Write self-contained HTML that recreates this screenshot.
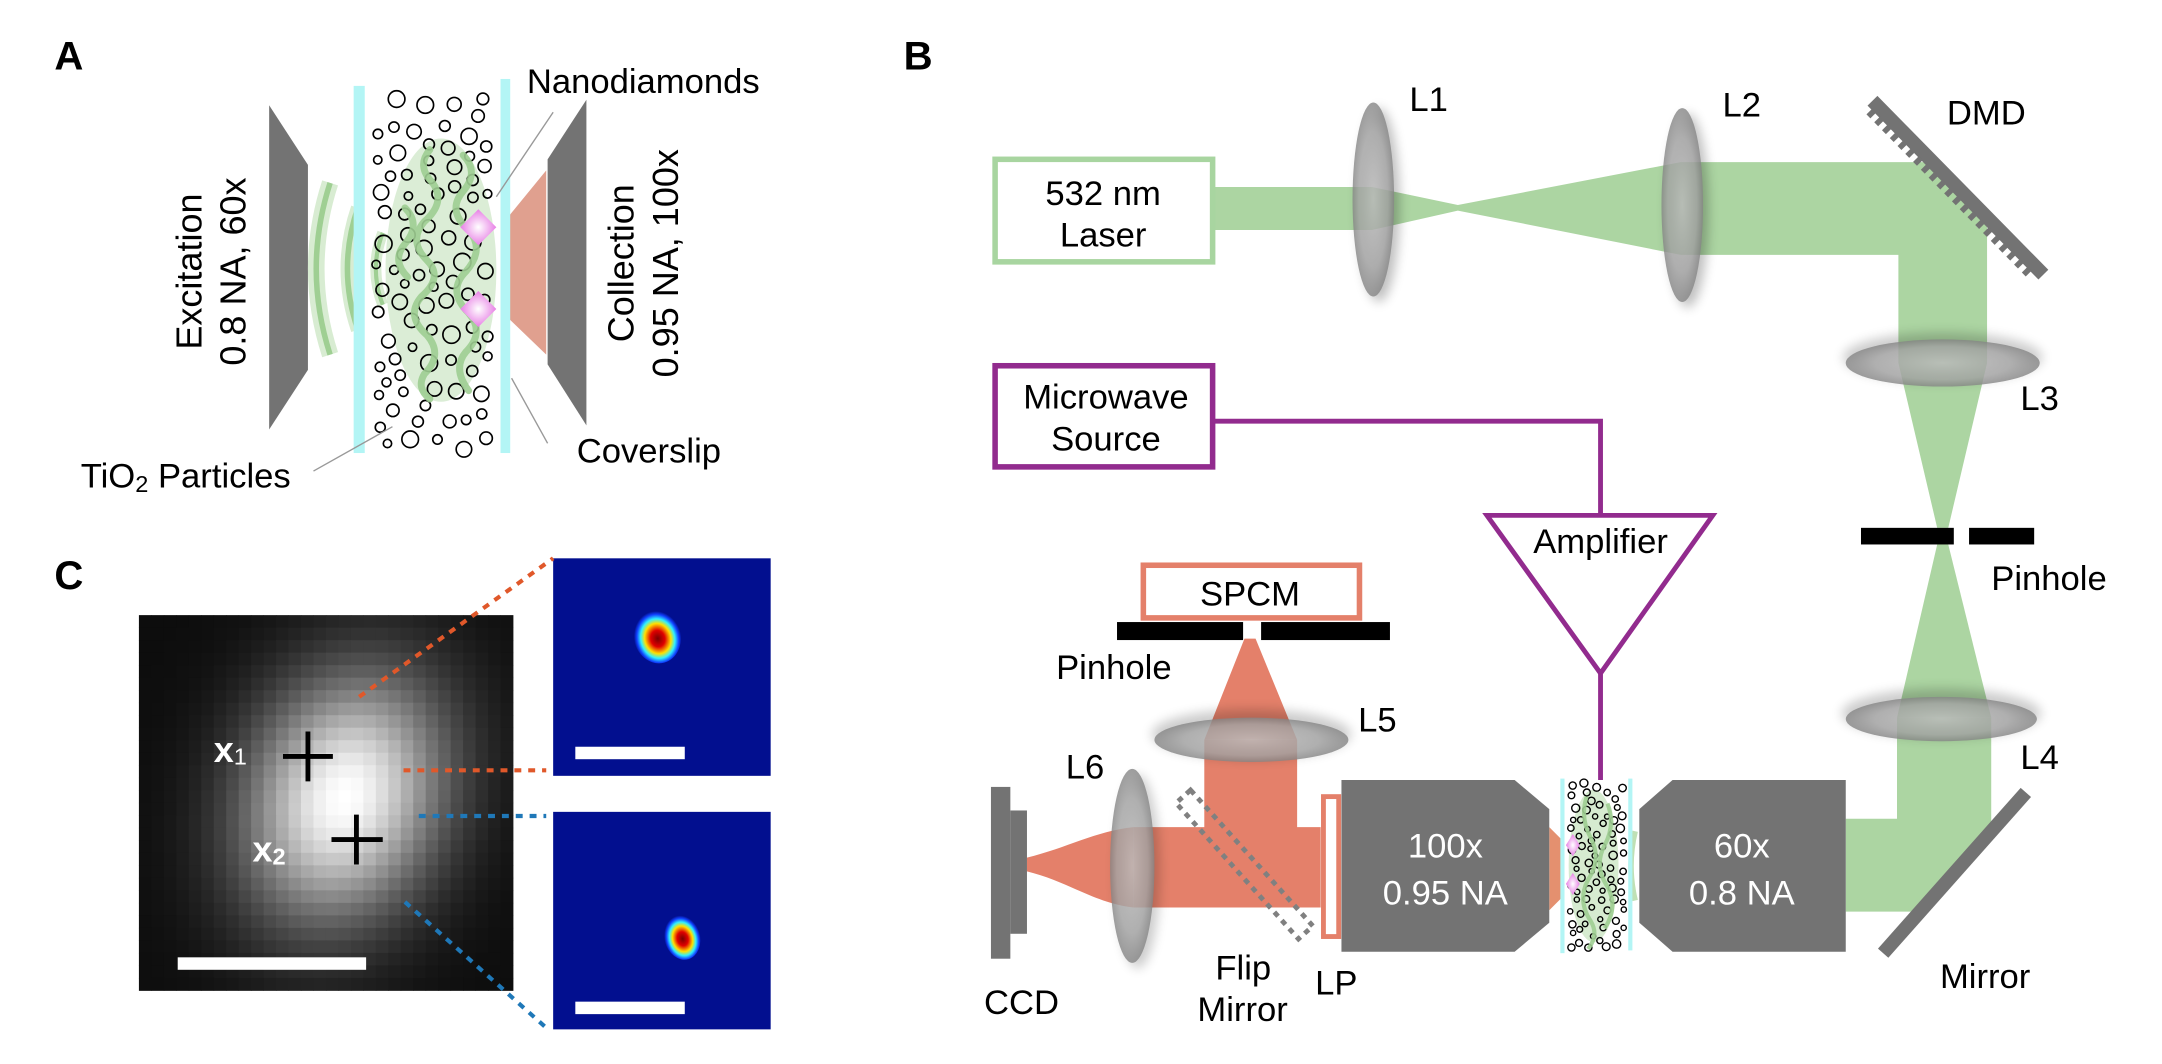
<!DOCTYPE html>
<html><head><meta charset="utf-8"><style>
html,body{margin:0;padding:0;background:#fff;}
svg{display:block;}
text{font-family:"Liberation Sans",Arial,sans-serif;}
</style></head><body>
<svg id="s" width="2162" height="1064" viewBox="0 0 1560 768" xmlns="http://www.w3.org/2000/svg">
<defs>
<radialGradient id="lens" cx="50%" cy="50%" r="50%">
<stop offset="0" stop-color="#c4c4c4"/><stop offset="0.7" stop-color="#a8a8a8"/><stop offset="1" stop-color="#858585"/>
</radialGradient>
<filter id="sh" x="-50%" y="-50%" width="200%" height="200%"><feGaussianBlur stdDeviation="4"/></filter>
<radialGradient id="hot" cx="50%" cy="55%" r="50%">
<stop offset="0" stop-color="#7a0000"/><stop offset="0.3" stop-color="#e00000"/><stop offset="0.55" stop-color="#ffe000"/><stop offset="0.72" stop-color="#30f0ff"/><stop offset="0.88" stop-color="#1040ff"/><stop offset="1" stop-color="#020f8f"/>
</radialGradient>
<radialGradient id="pink" cx="50%" cy="50%" r="50%">
<stop offset="0" stop-color="#fff"/><stop offset="1" stop-color="#e77fe5"/>
</radialGradient>
</defs>

<!-- ===== Panel A ===== -->
<text x="39" y="50" font-size="29" font-weight="bold">A</text>
<polygon points="194,76 222,119 222,267 194,310" fill="#737373"/>
<polygon points="423,72 395,115 395,263 423,307" fill="#737373"/>
<polygon points="367,156 394,123 394,256 367,230" fill="#e0a08f"/>
<g fill="none" stroke-linecap="butt">
<path d="M238,132 Q218,194 238,256" stroke="#d8ecd2" stroke-width="12"/>
<path d="M238,132 Q218,194 238,256" stroke="#9fcf93" stroke-width="4"/>
<path d="M258,150 Q243,194 258,238" stroke="#d8ecd2" stroke-width="10"/>
<path d="M258,150 Q243,194 258,238" stroke="#9fcf93" stroke-width="4"/>
<path d="M276,168 Q266,194 276,220" stroke="#d8ecd2" stroke-width="8"/>
<path d="M276,168 Q266,194 276,220" stroke="#9fcf93" stroke-width="3"/>
</g>
<ellipse cx="318" cy="195" rx="40" ry="95" fill="#cfe7c8" opacity="0.75"/>
<g id="circA" fill="none" stroke="#000" stroke-width="1.2"></g>
<g fill="none" stroke="#9fcf93" stroke-width="5" stroke-linecap="round" opacity="0.9">
<path d="M310,108 Q300,120 312,132 Q322,146 306,160 Q294,174 308,188 Q320,200 304,214 Q292,228 308,242 Q320,256 306,270 Q300,280 310,288"/>
<path d="M334,112 Q346,124 334,138 Q322,152 338,166 Q350,180 336,196 Q322,210 338,226 Q350,240 336,254 Q326,266 338,282"/>
<path d="M292,150 Q304,162 292,176 Q282,188 294,200"/>
</g>
<polygon points="345,151 358,164 345,177 332,164" fill="url(#pink)"/>
<polygon points="345,210 358,223 345,236 332,223" fill="url(#pink)"/>
<rect x="255" y="62" width="8" height="265" fill="#b3f5f5"/>
<rect x="361" y="57" width="7" height="270" fill="#b3f5f5"/>
<g stroke="#999" stroke-width="1" fill="none">
<line x1="399" y1="81" x2="358" y2="142"/>
<line x1="369" y1="273" x2="395" y2="320"/>
<line x1="226" y1="340" x2="283" y2="308"/>
</g>
<text x="380" y="67" font-size="25">Nanodiamonds</text>
<text x="416" y="334" font-size="25">Coverslip</text>
<text x="58" y="352" font-size="25">TiO<tspan font-size="17" dy="3">2</tspan><tspan dy="-3"> Particles</tspan></text>
<text transform="translate(145,196) rotate(-90)" text-anchor="middle" font-size="26">Excitation</text>
<text transform="translate(177,196) rotate(-90)" text-anchor="middle" font-size="26">0.8 NA, 60x</text>
<text transform="translate(457,190) rotate(-90)" text-anchor="middle" font-size="26">Collection</text>
<text transform="translate(489,190) rotate(-90)" text-anchor="middle" font-size="26">0.95 NA, 100x</text>

<!-- ===== Panel B ===== -->
<text x="652" y="50" font-size="29" font-weight="bold">B</text>
<g fill="#acd5a2">
<polygon points="876,135 990,135 1052,148 1213,117 1400,117 1434,151 1434,262 1370,262 1370,184 1213,184 1052,152 990,166 876,166"/>
<polygon points="1370,262 1434,262 1406,381 1398,381"/>
<polygon points="1398,393 1406,393 1437,518 1369,518"/>
<polygon points="1369,518 1437,518 1437,597 1383,658 1332,658 1332,591 1369,591"/>
</g>
<g fill="#e4806a">
<polygon points="898,461 906,461 936,534 869,534"/>
<polygon points="869,534 936,534 936,597 953,597 953,655 818,655 818,597 869,597"/>
<path d="M818,597 C790,600 770,612 741,619 L741,629 C770,636 790,652 818,655 Z"/>
</g>
<g>
<ellipse cx="995" cy="148" rx="15" ry="70" fill="#000" opacity="0.25" filter="url(#sh)"/>
<ellipse cx="991" cy="144" rx="15" ry="70" fill="url(#lens)" opacity="0.8"/>
<ellipse cx="1218" cy="152" rx="15" ry="70" fill="#000" opacity="0.25" filter="url(#sh)"/>
<ellipse cx="1214" cy="148" rx="15" ry="70" fill="url(#lens)" opacity="0.8"/>
<ellipse cx="1402" cy="258" rx="72" ry="18" fill="#000" opacity="0.2" filter="url(#sh)"/>
<ellipse cx="1402" cy="262" rx="70" ry="17" fill="url(#lens)" opacity="0.8"/>
<ellipse cx="1401" cy="515" rx="72" ry="18" fill="#000" opacity="0.2" filter="url(#sh)"/>
<ellipse cx="1401" cy="519" rx="69" ry="16" fill="url(#lens)" opacity="0.8"/>
<ellipse cx="903" cy="530" rx="72" ry="18" fill="#000" opacity="0.2" filter="url(#sh)"/>
<ellipse cx="903" cy="534" rx="70" ry="16" fill="url(#lens)" opacity="0.8"/>
<ellipse cx="821" cy="629" rx="16" ry="70" fill="#000" opacity="0.2" filter="url(#sh)"/>
<ellipse cx="817" cy="625" rx="16" ry="70" fill="url(#lens)" opacity="0.8"/>
</g>
<text x="1017" y="80" font-size="25">L1</text>
<text x="1243" y="84" font-size="25">L2</text>
<text x="1405" y="90" font-size="25">DMD</text>
<text x="1458" y="296" font-size="25">L3</text>
<text x="1458" y="555" font-size="25">L4</text>
<text x="980" y="528" font-size="25">L5</text>
<text x="769" y="562" font-size="25">L6</text>
<g transform="translate(1352,72) rotate(45.5)" fill="#737373">
<rect x="0" y="-4" width="176" height="10"/>
<g id="teeth"></g>
</g>
<rect x="718" y="115" width="157" height="74" fill="#fff" stroke="#a8d5a0" stroke-width="4"/>
<text x="796" y="148" font-size="25" text-anchor="middle">532 nm</text>
<text x="796" y="178" font-size="25" text-anchor="middle">Laser</text>
<rect x="718" y="264" width="157" height="73" fill="#fff" stroke="#922b8e" stroke-width="4"/>
<text x="798" y="295" font-size="25" text-anchor="middle">Microwave</text>
<text x="798" y="325" font-size="25" text-anchor="middle">Source</text>
<polyline points="875,304 1155,304 1155,372" fill="none" stroke="#922b8e" stroke-width="3.5"/>
<polygon points="1073,372 1236,372 1155,486" fill="#fff" stroke="#922b8e" stroke-width="3.5"/>
<line x1="1155" y1="486" x2="1155" y2="563" stroke="#922b8e" stroke-width="3.5"/>
<text x="1155" y="399" font-size="25" text-anchor="middle">Amplifier</text>
<rect x="1343" y="381" width="67" height="12" fill="#000"/>
<rect x="1421" y="381" width="47" height="12" fill="#000"/>
<text x="1437" y="426" font-size="25">Pinhole</text>
<rect x="825" y="408" width="156" height="38" fill="#fff" stroke="#e4806a" stroke-width="4"/>
<text x="902" y="437" font-size="25" text-anchor="middle">SPCM</text>
<rect x="806" y="449" width="91" height="13" fill="#000"/>
<rect x="910" y="449" width="93" height="13" fill="#000"/>
<text x="762" y="490" font-size="25">Pinhole</text>
<rect x="715" y="568" width="14" height="124" fill="#737373"/>
<rect x="729" y="585" width="12" height="89" fill="#737373"/>
<text x="710" y="732" font-size="25">CCD</text>
<g transform="translate(898,624) rotate(48)">
<rect x="-66" y="-7" width="132" height="14" fill="none" stroke="#808080" stroke-width="3.5" stroke-dasharray="4 4"/>
</g>
<text x="877" y="707" font-size="25">Flip</text>
<text x="864" y="737" font-size="25">Mirror</text>
<rect x="955" y="575" width="11" height="101" fill="#fff" stroke="#e4806a" stroke-width="3.5"/>
<text x="949" y="718" font-size="25">LP</text>
<polygon points="1118,597 1127,606 1127,648 1118,657" fill="#e4906f"/>
<polygon points="968,563 1093,563 1118,584 1118,666 1093,687 968,687" fill="#737373"/>
<text x="1043" y="619" font-size="25" fill="#fff" text-anchor="middle">100x</text>
<text x="1043" y="653" font-size="25" fill="#fff" text-anchor="middle">0.95 NA</text>
<polygon points="1207,563 1332,563 1332,687 1207,687 1183,666 1183,584" fill="#737373"/>
<text x="1257" y="619" font-size="25" fill="#fff" text-anchor="middle">60x</text>
<text x="1257" y="653" font-size="25" fill="#fff" text-anchor="middle">0.8 NA</text>
<ellipse cx="1150" cy="625" rx="18" ry="55" fill="#cfe7c8" opacity="0.85"/>
<path d="M1180,600 Q1174,625 1180,650" fill="none" stroke="#bfe0b5" stroke-width="4"/>
<g id="circB" fill="none" stroke="#000" stroke-width="1"></g>
<g fill="none" stroke="#9fcf93" stroke-width="3" opacity="0.9">
<path d="M1145,575 Q1140,590 1148,605 Q1156,620 1146,635 Q1138,650 1148,665 Q1154,675 1146,685"/>
<path d="M1160,580 Q1166,595 1158,610 Q1150,625 1160,640 Q1168,655 1158,670"/>
</g>
<polygon points="1135,602 1140,610 1135,618 1130,610" fill="url(#pink)"/>
<polygon points="1135,630 1140,638 1135,646 1130,638" fill="url(#pink)"/>
<rect x="1126" y="562" width="3" height="126" fill="#b3f5f5"/>
<rect x="1175" y="562" width="3" height="124" fill="#b3f5f5"/>
<line x1="1462" y1="572" x2="1359" y2="688" stroke="#737373" stroke-width="10"/>
<text x="1400" y="713" font-size="25">Mirror</text>

<!-- ===== Panel C ===== -->
<text x="39" y="425" font-size="29" font-weight="bold">C</text>
<g id="pix"></g>
<g stroke="#000" stroke-width="3.5">
<line x1="204" y1="546" x2="240" y2="546"/><line x1="222" y1="528" x2="222" y2="564"/>
<line x1="239" y1="606" x2="276" y2="606"/><line x1="257" y1="588" x2="257" y2="624"/>
</g>
<text x="154" y="550" font-size="26" fill="#fff" font-weight="bold">x<tspan font-size="17" font-weight="normal" dy="2">1</tspan></text>
<text x="182" y="622" font-size="26" fill="#fff" font-weight="bold">x<tspan font-size="17" dy="2">2</tspan></text>
<rect x="128" y="691" width="136" height="9" fill="#fff"/>
<rect x="399" y="403" width="157" height="157" fill="#020f8f"/>
<rect x="399" y="586" width="157" height="157" fill="#020f8f"/>
<ellipse cx="474" cy="459" rx="17" ry="20" fill="url(#hot)" transform="rotate(-15 474 459)"/>
<ellipse cx="492" cy="676" rx="13" ry="17" fill="url(#hot)" transform="rotate(-15 492 676)"/>
<rect x="415" y="539" width="79" height="9" fill="#fff"/>
<rect x="415" y="723" width="79" height="9" fill="#fff"/>
<g stroke-width="3" stroke-dasharray="5 5" fill="none">
<line x1="259" y1="503" x2="399" y2="403" stroke="#e0582a"/>
<line x1="291" y1="556" x2="394" y2="556" stroke="#e0582a"/>
<line x1="302" y1="589" x2="394" y2="589" stroke="#1f78b8"/>
<line x1="292" y1="651" x2="393" y2="741" stroke="#1f78b8"/>
</g>
</svg>
<script>
(function(){
var NS="http://www.w3.org/2000/svg";
function el(t,a,p){var e=document.createElementNS(NS,t);for(var k in a)e.setAttribute(k,a[k]);p.appendChild(e);return e;}
var seed=12345;function r(){seed=(seed*1103515245+12345)%2147483648;return seed/2147483648;}
var g=document.getElementById("circA");var pts=[];
for(var t=0;t<4000&&pts.length<105;t++){var rad=3+r()*3.2;var x=268+rad+r()*(88-2*rad);var y=70+r()*255;
var ok=true;for(var i=0;i<pts.length;i++){var d=Math.hypot(pts[i][0]-x,pts[i][1]-y);if(d<pts[i][2]+rad+4){ok=false;break;}}
if(ok){pts.push([x,y,rad]);el("circle",{cx:x.toFixed(1),cy:y.toFixed(1),r:rad.toFixed(1)},g);}}
g=document.getElementById("circB");pts=[];
for(var t=0;t<3000&&pts.length<80;t++){var rad=1.8+r()*1.2;var x=1131+rad+r()*(43-2*rad);var y=565+r()*120;
var ok=true;for(var i=0;i<pts.length;i++){var d=Math.hypot(pts[i][0]-x,pts[i][1]-y);if(d<pts[i][2]+rad+1.2){ok=false;break;}}
if(ok){pts.push([x,y,rad]);el("circle",{cx:x.toFixed(1),cy:y.toFixed(1),r:rad.toFixed(1)},g);}}
g=document.getElementById("teeth");
for(var k=4;k<172;k+=8){el("rect",{x:k,y:5,width:4,height:6},g);}
g=document.getElementById("pix");var cw=9,ch=9.03;
for(var j=0;j<30;j++)for(var i=0;i<30;i++){
var px=i*cw+cw/2,py=j*ch+ch/2;var dx=px-148,dy=py-132;
var c=Math.cos(-0.35),s=Math.sin(-0.35);var u=dx*c-dy*s,v=dx*s+dy*c;
var val=Math.exp(-(u*u/(2*52*52)+v*v/(2*68*68)));
var b=0.05+0.95*Math.pow(val,1.15);b=Math.min(1,b);
var gr=Math.round(255*b);
el("rect",{x:(100+i*cw).toFixed(2),y:(444+j*ch).toFixed(2),width:cw+0.3,height:ch+0.3,fill:"rgb("+gr+","+gr+","+gr+")"},g);}
})();
</script>
</body></html>
